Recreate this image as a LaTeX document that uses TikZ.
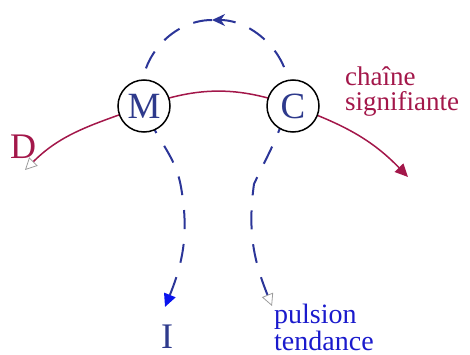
\documentclass[tikz,border=0pt]{standalone}
\usepackage{fontspec}
\setmainfont{Liberation Serif}
\usetikzlibrary{arrows.meta,backgrounds}
\definecolor{ChainRed}{HTML}{A3174A}
\definecolor{DriveBlue}{HTML}{2B3598}
\definecolor{LabBlue}{HTML}{1A1ACC}
\definecolor{LetNavy}{HTML}{2E3A8C}
\definecolor{TipGray}{HTML}{9C9C9C}
\definecolor{TipBlue}{HTML}{0A14EE}

\begin{document}
\begin{tikzpicture}[x=1pt,y=1pt,
    ring/.style={circle,draw=black,line width=1.5pt,fill=white,
                 minimum size=52pt,inner sep=0pt,text=LetNavy,
                 font=\fontsize{37}{37}\selectfont},
    sig/.style={line width=1.5pt,ChainRed},
    pul/.style={line width=2pt,DriveBlue,dash pattern=on 19pt off 15pt},
    lab/.style={inner sep=0pt,align=left,font=\fontsize{27}{25}\selectfont}]
\useasboundingbox (0,0) rectangle (470,354);
\node[ring] (M) at (144,248) {M};
\node[ring] (C) at (293,248) {C};
\node[lab,text=ChainRed,font=\fontsize{36}{36}\selectfont,anchor=base] (D) at (23,196) {D};
\node[lab,text=LetNavy,font=\fontsize{36}{36}\selectfont,anchor=base] (I) at (167,6) {I};
\node[lab,text=ChainRed,anchor=north west] (cs) at (345,287) {chaîne\\signifiante};
\node[lab,text=LabBlue,font=\fontsize{28}{24}\selectfont,anchor=north west] (pt) at (274,50) {pulsion\\tendance};
\coordinate (d0) at (25,184);
\coordinate (d1) at (408,177);
\coordinate (p0) at (272,48);
\coordinate (p1) at (254,170);
\coordinate (p2) at ([xshift=-6pt]C.center);
\coordinate (top) at (212,334);
\coordinate (i1) at (181,167);
\coordinate (i0) at (165,47);
\begin{scope}[on background layer]
\draw[sig,{Triangle[open,color=TipGray,line width=0.8pt,length=12pt,width=12pt]}-{Triangle[length=13pt,width=12pt]}]
  (d0) to[out=45,in=200] (M.center) to[out=20,in=160] (C.center) to[out=-20,in=134] (d1);
\draw[pul,{Triangle[open,color=TipGray,line width=0.8pt,length=12pt,width=12pt]}-{Stealth[length=13pt,width=12pt]}]
  (p0) to[out=112,in=262] (p1) to[out=65,in=255] (p2) to[out=75,in=0] (top);
\draw[pul,-{Triangle[length=13pt,width=12pt,color=TipBlue]}]
  (top) to[out=180,in=105] (M.center) to[out=-72,in=100] (i1) to[out=-80,in=68] (i0);
\end{scope}
\end{tikzpicture}
\end{document}
